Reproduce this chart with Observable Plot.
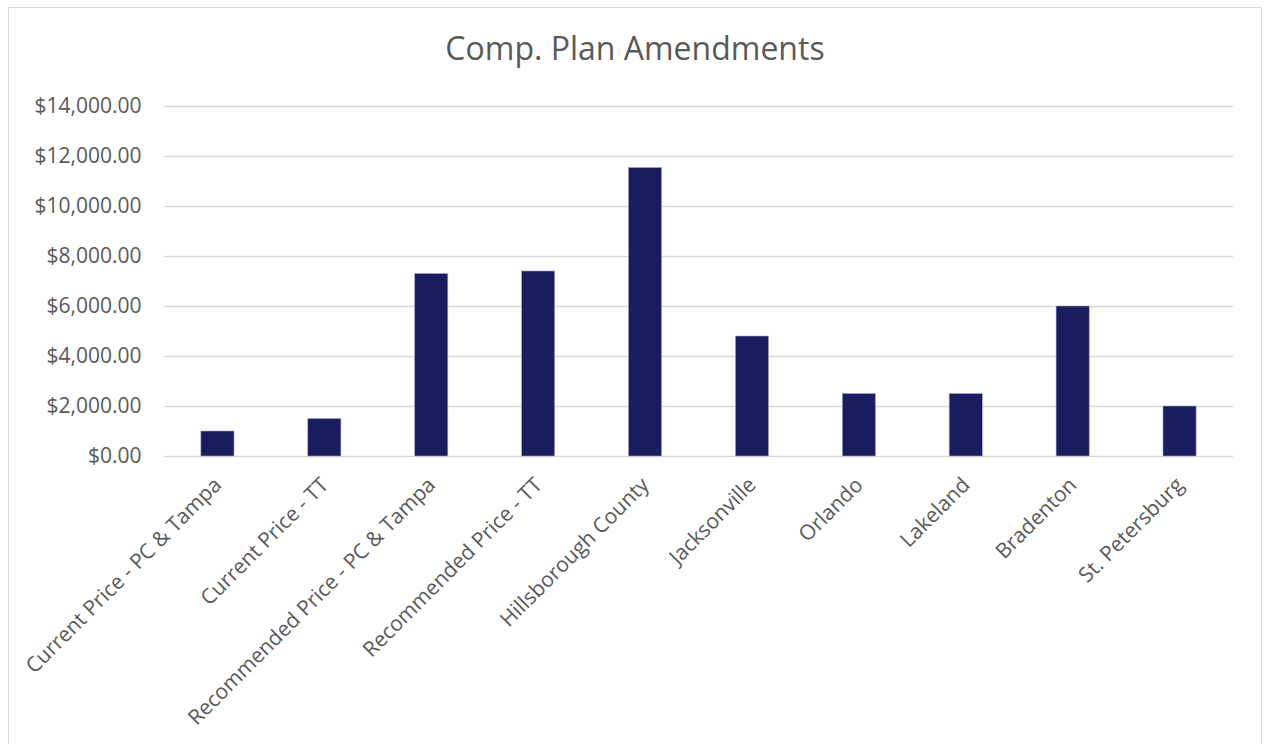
<!DOCTYPE html>
<html>
<head>
<meta charset="utf-8">
<script src="https://cdn.jsdelivr.net/npm/d3@7"></script>
<script src="https://cdn.jsdelivr.net/npm/@observablehq/plot@0.6"></script>
<style>
  body { margin: 0; background: #fff; font-family: "Open Sans", sans-serif; }
  #wrap { position: relative; width: 1264px; height: 744px; overflow: hidden; }
  #frame { position: absolute; left: 8px; top: 7px; width: 1254px; height: 800px; border: 1.5px solid #d9d9d9; box-sizing: border-box; }
  #title { position: absolute; left: 8px; width: 1254px; top: 28px; text-align: center; font-size: 32px; color: #595959; line-height: 40px; }
  #chart { position: absolute; left: 0; top: 0; }
</style>
</head>
<body>
<div id="wrap">
  <div id="frame"></div>
  <div id="title">Comp. Plan Amendments</div>
  <div id="chart"></div>
</div>
<script>
const categories = [
  "Current Price - PC & Tampa",
  "Current Price - TT",
  "Recommended Price - PC & Tampa",
  "Recommended Price - TT",
  "Hillsborough County",
  "Jacksonville",
  "Orlando",
  "Lakeland",
  "Bradenton",
  "St. Petersburg"
];
const values = [1000, 1500, 7300, 7400, 11540, 4800, 2500, 2500, 6000, 2000];
const yTicks = [0, 2000, 4000, 6000, 8000, 10000, 12000, 14000];

const data = categories.map((c, i) => ({category: c, value: values[i]}));
const fmt = d => "$" + d3.format(",.2f")(d);

const chart = Plot.plot({
  width: 1264,
  height: 744,
  marginLeft: 164,
  marginRight: 31,
  marginTop: 106,
  marginBottom: 288,
  style: { fontFamily: "Open Sans", fontSize: "20px", color: "#595959", background: "transparent", overflow: "visible" },
  x: { domain: categories, paddingInner: 0.69, paddingOuter: 0.345, round: false, label: null },
  y: { domain: [0, 14000], label: null },
  marks: [
    Plot.gridY(yTicks, { stroke: "#d9d9d9", strokeOpacity: 1, strokeWidth: 1.5 }),
    Plot.barY(data, { x: "category", y: "value", fill: "#1a1c60", stroke: "#a6a8c8", strokeWidth: 0.6 }),
    Plot.axisY(yTicks, { tickFormat: fmt, tickSize: 0, tickPadding: 23, fontSize: 21, fill: "#595959", label: null }),
    Plot.axisX({ tickRotate: -45, tickSize: 0, tickPadding: 25, fontSize: 21, fill: "#595959", label: null })
  ]
});
document.getElementById("chart").appendChild(chart);
</script>
</body>
</html>
